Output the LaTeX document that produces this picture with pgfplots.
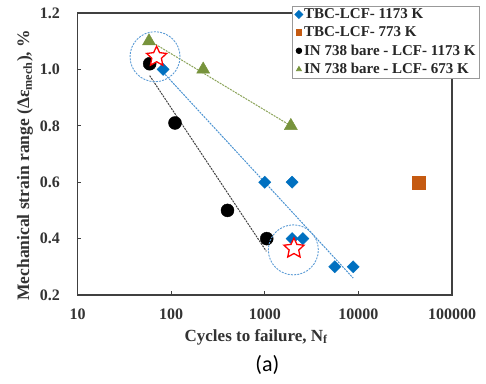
\documentclass[border=0pt]{standalone}
\usepackage{fontspec}
\setmainfont{Liberation Serif}
\newfontfamily\calibri{Carlito}
\usepackage{pgfplots}
\pgfplotsset{compat=1.18}
\usetikzlibrary{plotmarks}

\definecolor{tbcblue}{RGB}{0,112,192}
\definecolor{tbcorange}{RGB}{197,90,17}
\definecolor{ingreen}{RGB}{119,147,60}
\definecolor{circblue}{RGB}{91,155,213}
\definecolor{axgray}{RGB}{64,64,64}

\pgfdeclareplotmark{fivestar}{%
  \pgfpathmoveto{\pgfpointpolar{90}{\pgfplotmarksize}}%
  \pgfpathlineto{\pgfpointpolar{126}{0.48\pgfplotmarksize}}%
  \pgfpathlineto{\pgfpointpolar{162}{\pgfplotmarksize}}%
  \pgfpathlineto{\pgfpointpolar{198}{0.48\pgfplotmarksize}}%
  \pgfpathlineto{\pgfpointpolar{234}{\pgfplotmarksize}}%
  \pgfpathlineto{\pgfpointpolar{270}{0.48\pgfplotmarksize}}%
  \pgfpathlineto{\pgfpointpolar{306}{\pgfplotmarksize}}%
  \pgfpathlineto{\pgfpointpolar{342}{0.48\pgfplotmarksize}}%
  \pgfpathlineto{\pgfpointpolar{18}{\pgfplotmarksize}}%
  \pgfpathlineto{\pgfpointpolar{54}{0.48\pgfplotmarksize}}%
  \pgfpathclose
  \pgfusepathqfillstroke
}

\begin{document}
\begin{tikzpicture}
\begin{axis}[
  scale only axis, width=374.5pt, height=282pt,
  xmode=log, xmin=10, xmax=100000, ymin=0.2, ymax=1.2,
  xtick={10,100,1000,10000,100000},
  xticklabels={10,100,1000,10000,100000},
  ytick={0.2,0.4,0.6,0.8,1.0,1.2},
  yticklabels={0.2,0.4,0.6,0.8,1.0,1.2},
  xminorticks=false, yminorticks=false,
  tick align=inside, xtick pos=left, ytick pos=left,
  major tick length=4pt,
  axis line style={axgray, line width=1.6pt},
  tick style={axgray, line width=1pt},
  ticklabel style={font=\fontsize{16}{18}\selectfont\bfseries, text=black!80},
  xticklabel style={yshift=-10pt},
  yticklabel style={xshift=-14pt},
  xlabel={Cycles to failure, N\textsubscript{f}},
  ylabel={Mechanical strain range (Δε\textsubscript{mech}), \%},
  every axis x label/.style={at={(axis description cs:0.477,-0.149)}, anchor=center, font=\fontsize{17}{19}\selectfont\bfseries, text=black!80},
  every axis y label/.style={at={(axis description cs:-0.14,0.46)}, anchor=center, rotate=90, font=\fontsize{17.5}{19}\selectfont\bfseries, text=black!80},
  legend style={at={(axis description cs:0.573,1.026)}, anchor=north west, draw=gray!80, fill=white, line width=0.8pt,
    font=\fontsize{15}{16}\selectfont\bfseries, text=black!85, inner xsep=2.5pt, inner ysep=1.5pt,
    row sep=4.2pt, nodes={inner sep=1.2pt}},
  legend cell align=left,
  legend image code/.code={\draw[mark repeat=2,mark phase=2,#1] plot coordinates {(0pt,0pt) (2pt,0pt) (4pt,0pt)};},
  legend image post style={mark size=2.8pt},
  clip=false,
]
% fit lines
\addplot[forget plot, ingreen!85!white, line width=1pt, dash pattern=on 2pt off 1pt] coordinates {(60,1.1) (1900,0.8)};
\addplot[forget plot, black!75, line width=1pt, dash pattern=on 2pt off 1pt] coordinates {(59,0.978) (1040,0.355)};
\addplot[forget plot, circblue!80!tbcblue, line width=1pt, dash pattern=on 2pt off 1pt] coordinates {(82,0.99) (8800,0.26)};
% data
\addplot[only marks, mark=square*, mark size=4.3pt, mark options={rotate=45, fill=tbcblue, draw=tbcblue}] coordinates {
 (82,1.0) (1000,0.6) (1960,0.6) (1960,0.4) (2550,0.4) (5600,0.3) (8800,0.3)};
\addlegendentry{TBC-LCF- 1173 K}
\addplot[only marks, mark=square*, mark size=6.5pt, mark options={fill=tbcorange, draw=tbcorange}] coordinates {(44500,0.6)};
\addlegendentry{TBC-LCF- 773 K}
\addplot[only marks, mark=*, mark size=6.5pt, mark options={fill=black, draw=black}] coordinates {
 (59,1.02) (110,0.81) (400,0.5) (1050,0.4)};
\addlegendentry{IN 738 bare - LCF- 1173 K}
\addplot[only marks, mark=triangle*, mark size=7.5pt, mark options={fill=ingreen, draw=ingreen}] coordinates {
 (58,1.1) (220,1.0) (1900,0.8)};
\addlegendentry{IN 738 bare - LCF- 673 K}
% highlight circles and stars
\addplot[forget plot, only marks, mark=o, mark size=25pt, mark options={draw=circblue, line width=0.9pt, dash pattern=on 2pt off 1.2pt}] coordinates {(67.3,1.045) (2020,0.36)};
\addplot[forget plot, only marks, mark=fivestar, mark size=10.5pt, mark options={draw=red, fill=white, line width=1.3pt}] coordinates {(70,1.045) (2050,0.365)};
\node[font=\calibri\fontsize{22}{24}\selectfont, anchor=center] at (axis description cs:0.507,-0.248) {(a)};
\end{axis}
\pgfresetboundingbox
\path[use as bounding box] (-77.5pt,-88pt) rectangle (408.5pt,295pt);
\end{tikzpicture}
\end{document}
